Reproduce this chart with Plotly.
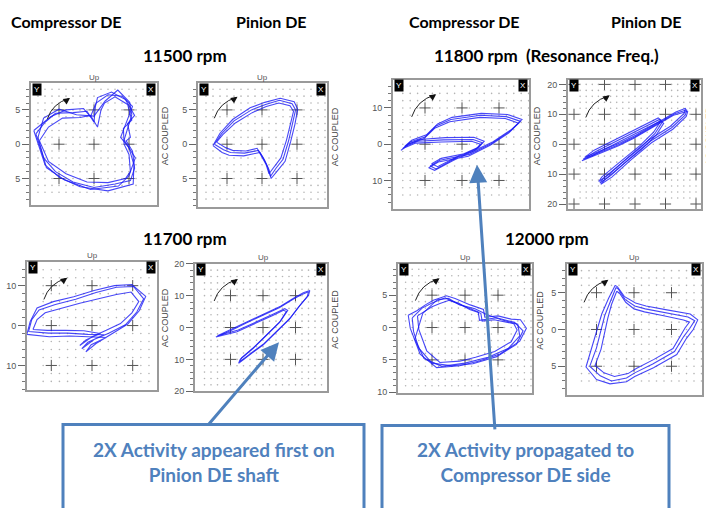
import numpy as np
import plotly.graph_objects as go

W, H = 706, 508

# ---------------- DATA (orbit loops, data units) ----------------
ORBIT_11500_COMP = [
    [(-8.3,1.5),(-7,3.2),(-5.5,4.5),(-3,4.6),(-1,4.8),(0,3.2),(0.2,5.5),(0.5,6.8),(2.5,7.6),(4.5,6.5),(5.8,4.2),(4.8,3),(5.2,1),(4.6,0.5),(5.5,-1),(5.8,-3.5),(5.2,-5.3),(3,-5.8),(0,-6.3),(-3,-5.5),(-5.5,-4),(-7.2,-2),(-8.3,1.5)],
    [(-7.8,0.5),(-6.5,2.5),(-4.5,3.8),(-2,3.9),(-0.5,4.2),(0.5,2.5),(1,5),(1.5,6),(3,6.9),(4.8,5.8),(5.4,3.5),(4.2,2.3),(4.3,0),(5,-1.5),(5.2,-4),(4.5,-5),(2,-5.6),(-1,-5.5),(-4,-4.3),(-6.5,-2.5),(-7.8,0.5)],
    [(-8.6,2),(-6.2,4),(-4,5),(-1.5,5.2),(-0.5,4),(0.3,6),(2,7.2),(4,7),(5.5,5.5),(3.8,1),(5,-0.5),(5.7,-3),(5.6,-5.8),(2,-6.8),(-2,-6.2),(-5,-4.8),(-7,-3),(-8.6,2)],
    [(-8,1),(-7.2,3.8),(-5,5.1),(-2.5,4.3),(0,4.1),(1.6,6.3),(3.4,7.9),(5.1,6.1),(5.4,4.3),(4.3,0.6),(5.9,-2),(5.0,-4.6),(3.5,-6.1),(-0.5,-6.6),(-4.2,-5.2),(-6.8,-3.4),(-8,1)],
]
ORBIT_11500_PINION = [
    [(-6.8,0),(-5.5,-0.8),(-4.5,-1.2),(-2.5,-1.3),(-0.5,-0.9),(0.2,-2),(0.8,-3.3),(1.2,-4.7),(2,-3.5),(3,-2.2),(3.8,0.5),(4.4,3),(4.8,5),(4.3,5.9),(2.5,6.4),(0.5,5.8),(-1.5,5),(-4,3.4),(-5.8,1.5),(-6.8,0)],
    [(-6.5,0.3),(-5.2,-0.5),(-4.2,-0.9),(-2.3,-1.0),(-0.7,-0.6),(0.0,-1.8),(0.6,-3.0),(1.0,-4.3),(1.8,-3.2),(2.7,-2.0),(3.5,0.6),(4.1,3.1),(4.5,4.8),(4.0,5.6),(2.4,6.0),(0.6,5.5),(-1.4,4.6),(-3.8,3.1),(-5.6,1.4),(-6.5,0.3)],
    [(-7.0,-0.2),(-5.7,-1.2),(-4.7,-1.6),(-2.6,-1.7),(-0.3,-1.2),(0.4,-2.4),(1.0,-3.7),(1.3,-5.0),(2.2,-3.9),(3.3,-2.5),(4.1,0.4),(4.7,2.9),(5.1,5.1),(4.6,6.2),(2.6,6.7),(0.4,6.1),(-1.7,5.3),(-4.2,3.6),(-6.0,1.6),(-7.0,-0.2)],
]
ORBIT_11800_COMP = [
    [(-15,-0.5),(-12,0.8),(-5,1.2),(3,1.3),(5.5,0.4),(4,-1.2),(-2,-4),(-7,-6.8),(-8.6,-6),(-6,-4.4),(2,-2.8),(8,0.2),(13,3.6),(15.8,6.3),(12,7.6),(5,8),(-3,6.8),(-7,5),(-10,2),(-14,0.6),(-16,-1.2),(-15,-0.5)],
    [(-14.5,0),(-11.5,1.3),(-4.5,1.8),(3.2,1.9),(6,0.8),(4.6,-0.8),(-1.6,-3.6),(-6.6,-6.2),(-8.2,-5.4),(-5.6,-3.9),(2.3,-2.3),(8.4,0.7),(13.4,4.1),(16.2,6.8),(12.3,8.2),(5.2,8.5),(-2.7,7.4),(-6.6,5.6),(-9.6,2.6),(-13.6,1.1),(-15.5,-0.6),(-14.5,0)],
    [(-15.5,-1),(-12.5,0.3),(-5.5,0.6),(2.6,0.8),(5.0,0),(3.5,-1.7),(-2.4,-4.5),(-7.4,-7.2),(-9.0,-6.5),(-6.4,-4.9),(1.7,-3.3),(7.6,-0.3),(12.6,3.1),(15.3,5.8),(11.7,7.1),(4.8,7.4),(-3.3,6.2),(-7.4,4.4),(-10.4,1.4),(-14.4,0.1),(-16.5,-1.7),(-15.5,-1)],
]
ORBIT_11800_PINION = [
    [(-17,-5),(-11,-2.5),(-5,0),(0,2.5),(5,5.5),(9,8),(13,10.2),(17,11.5),(16.5,9.8),(12,5.5),(5,1),(-2,-5),(-8,-10.5),(-11.5,-13),(-10.5,-11.5),(-4,-6),(2,-1),(6.5,3.5),(9,7.5),(8,8.3),(4,6.2),(-2,3),(-8,0),(-13,-2.5),(-17,-5)],
    [(-16.5,-4.4),(-10.6,-1.9),(-4.6,0.6),(0.4,3.1),(5.4,6.1),(9.4,8.6),(13.4,10.8),(16.6,12),(16.1,10.3),(11.6,6.0),(4.6,1.5),(-2.4,-4.5),(-8.4,-10),(-11.9,-12.5),(-10.9,-11.0),(-4.4,-5.5),(1.6,-0.5),(6.1,4.0),(8.6,8.0),(7.6,8.8),(3.6,6.7),(-2.4,3.5),(-8.4,0.5),(-13.4,-2.0),(-16.5,-4.4)],
    [(-17.4,-5.5),(-11.4,-3.0),(-5.4,-0.5),(-0.4,2.0),(4.6,5.0),(8.6,7.5),(12.6,9.7),(17.3,11.0),(16.8,9.3),(12.4,5.0),(5.4,0.5),(-1.6,-5.5),(-7.6,-11),(-11.2,-13.4),(-10.1,-12.0),(-3.6,-6.5),(2.4,-1.5),(6.9,3.0),(9.4,7.0),(8.4,7.8),(4.4,5.7),(-1.6,2.5),(-7.6,-0.5),(-12.6,-3.0),(-17.4,-5.5)],
]
ORBIT_11700_COMP = [
    [(-15.6,-1.5),(-14.8,1.5),(-13,3.9),(-9,5.3),(-4,6.6),(1,8.3),(6,9.6),(10.2,9.8),(12.7,6.7),(11,3.4),(8.2,0.2),(4.1,-1.9),(0.5,-3.5),(-2.5,-5.8),(-1,-4.2),(3,-2.3),(-1,-2.2),(-6,-1.9),(-10.7,-1.9),(-15.6,-1.5)],
    [(-14.5,-1),(-13.5,1.5),(-11.5,3.2),(-7.5,4.4),(-3,5.6),(1.6,6.7),(6,7.8),(9.6,8.4),(11.5,6),(9.8,3.2),(7,0.5),(3.5,-1.2),(0,-2.8),(-3,-5),(-1.5,-3.6),(2,-2),(-2,-1.3),(-6.5,-1.2),(-11,-1.2),(-14.5,-1)],
    [(-16,-2.2),(-15.2,1),(-13.5,4.4),(-9.5,6),(-4.5,7.2),(0.5,8.8),(5.5,10),(9.8,10.3),(13.2,7.3),(11.6,3.7),(8.8,0.4),(4.8,-2.2),(1,-4.5),(-1.5,-6.6),(-0.2,-4.8),(3.5,-3),(-0.5,-2.9),(-5.5,-2.6),(-10.5,-2.8),(-16,-2.2)],
]
ORBIT_11700_PINION = [
    [(-14.5,-3),(-10,-1),(-5,1.5),(0,3.8),(5,6.2),(9,8.7),(12,10.4),(14,11.2),(13.6,9.7),(11,6.5),(8,2.5),(4,-1.5),(0,-5.5),(-4,-8.5),(-7.5,-11.2),(-7,-10),(-3,-6.5),(1,-2.5),(5,1.5),(7.2,5),(6.3,5.4),(3,3.8),(-2,1.4),(-8,-1.3),(-14.5,-3)],
    [(-14,-2.6),(-9.6,-0.5),(-4.6,2.0),(0.4,4.3),(5.4,6.7),(9.4,9.2),(12.4,10.9),(14.4,11.6),(14.0,10.1),(11.4,7.0),(8.4,3.0),(4.4,-1.0),(0.4,-5.0),(-3.6,-8.0),(-7.1,-10.7),(-6.6,-9.5),(-2.6,-6.0),(1.4,-2.0),(5.4,2.0),(7.6,5.4),(6.7,5.9),(3.4,4.3),(-1.6,1.9),(-7.6,-0.8),(-14,-2.6)],
]
ORBIT_12000_COMP = [
    [(-8.6,1.9),(-7.3,2.6),(-6,3.5),(-4.8,4.2),(-2.8,4.9),(-1.5,4.5),(0.8,3.5),(2.8,2.8),(3,1.6),(5,1.8),(7,1.3),(8.4,1.2),(9.3,-0.1),(8.3,-2.1),(5.3,-4.1),(2,-5.2),(-0.8,-5.9),(-4.3,-6.2),(-6.8,-4.1),(-8.3,-0.1),(-8.6,1.9)],
    [(-7.2,1.8),(-6.2,2.5),(-5,3.2),(-3.8,3.7),(-2.4,4.2),(-1,3.8),(0.7,2.8),(2.4,2.2),(2.6,1),(4.4,1.2),(6.2,0.8),(7.4,0.6),(7.9,-0.4),(7,-2.2),(4.5,-3.7),(1.6,-4.6),(-0.8,-5.2),(-3.8,-5.4),(-5.8,-3.6),(-7,-0.3),(-7.2,1.8)],
    [(-8,1.5),(-6.5,3),(-5,3.8),(-3,4.6),(-1.8,4),(0.3,3.1),(2,2.4),(2.2,1.1),(4.8,1.5),(7.5,0.8),(8.8,-0.5),(7.8,-2.6),(4.8,-4.5),(1.2,-5.6),(-2,-5.9),(-5,-5.5),(-7,-3.2),(-7.8,-0.6),(-8,1.5)],
    [(-6.4,2.2),(-5.2,3.3),(-4.2,4.3),(-2.5,4.5),(-0.8,3.5),(1.5,2.9),(3.3,2.0),(5.5,1.2),(8.0,0.5),(8.3,-1.3),(6.6,-3.2),(3.5,-4.6),(0.0,-5.5),(-3.5,-6.0),(-6.2,-4.8),(-7.6,-1.8),(-6.4,2.2)],
]
ORBIT_12000_PINION = [
    [(-2.4,5.7),(-3.2,3.8),(-3.9,1.9),(-4.5,-0.5),(-5,-2.5),(-5.9,-5),(-4.5,-6.3),(-3,-7),(-1,-6.6),(0.1,-5.9),(2.5,-4.7),(5.4,-3),(6.6,-1),(7.4,0.1),(8.1,1.2),(7.2,1.7),(4,2.3),(1.5,2.8),(0.1,3.2),(-1.2,4.1),(-2.1,5.5),(-2.4,5.7)],
    [(-2.3,5.2),(-3,3.4),(-3.5,1.5),(-4.0,-0.8),(-4.4,-2.7),(-5.2,-4.9),(-4.0,-5.9),(-2.6,-6.4),(-0.8,-6.0),(0.3,-5.3),(2.6,-4.1),(5.2,-2.6),(6.2,-0.8),(6.8,0.2),(7.4,1.0),(6.6,1.3),(3.8,1.9),(1.4,2.4),(0,2.8),(-1.1,3.7),(-1.9,4.9),(-2.3,5.2)],
    [(-2.5,6),(-3.4,4.2),(-4.3,2.1),(-5,-0.3),(-5.6,-2.4),(-6.4,-5.1),(-5,-6.8),(-3.2,-7.4),(-1,-7.1),(0.1,-6.4),(2.6,-5.2),(5.7,-3.4),(7.0,-1.2),(7.9,0),(8.5,1.3),(7.5,2.1),(4.2,2.7),(1.6,3.2),(0.2,3.6),(-1.3,4.5),(-2.2,5.8),(-2.5,6)],
]

COLUMN_HEADERS = ["Compressor DE", "Pinion DE", "Compressor DE", "Pinion DE"]
SPEED_TITLES = ["11500 rpm", "11800 rpm\u00a0\u00a0(Resonance Freq.)", "11700 rpm", "12000 rpm"]
CALLOUTS = ["2X Activity appeared first on<br>Pinion DE shaft",
            "2X Activity propagated to<br>Compressor DE side"]

# ------------- layout config per panel (pixels) -------------
PANELS = [
    dict(orbit=ORBIT_11500_COMP,   box=(31, 80, 157, 204),  c=(94, 142),  ppu=7.0,  dot=1, cross=[-5, 0, 5],  yt=[-5, 0, 5], minor=1, up=True),
    dict(orbit=ORBIT_11500_PINION, box=(198, 80, 327, 206), c=(262, 142), ppu=7.0,  dot=1, cross=[-5, 0, 5],  yt=[-5, 0, 5], minor=1, up=True),
    dict(orbit=ORBIT_11800_COMP,   box=(393, 76, 529, 208), c=(462, 142), ppu=3.7,  dot=2, cross=[-10, 0, 10], yt=[-10, 0, 10], minor=2, up=False),
    dict(orbit=ORBIT_11800_PINION, box=(568, 76, 701, 208), c=(635, 142), ppu=3.05, dot=2, cross=[-20, -10, 0, 10, 20], yt=[-20, -10, 0, 10, 20], minor=2, up=False),
    dict(orbit=ORBIT_11700_COMP,   box=(27, 262, 157, 393), c=(92, 327),  ppu=4.07, dot=2, cross=[-10, 0, 10], yt=[-10, 0, 10], minor=2, up=True),
    dict(orbit=ORBIT_11700_PINION, box=(195, 264, 327, 394), c=(263, 329), ppu=3.25, dot=2, cross=[-10, 0, 10], yt=[-20, -10, 0, 10, 20], minor=2, up=True),
    dict(orbit=ORBIT_12000_COMP,   box=(398, 264, 532, 396), c=(465, 329), ppu=6.6,  dot=1, cross=[-5, 0, 5],  yt=[-10, -5, 0, 5, 10], minor=1, up=True),
    dict(orbit=ORBIT_12000_PINION, box=(567, 264, 702, 398), c=(634, 331), ppu=7.5,  dot=1, cross=[-5, 0, 5],  yt=[-5, 0, 5], minor=1, up=True),
]

def fx(x): return x / W
def fy(y): return 1 - y / H

fig = go.Figure()
layout = dict(width=W, height=H, margin=dict(l=0, r=0, t=0, b=0),
              paper_bgcolor="white", plot_bgcolor="white", showlegend=False)
annotations = []
shapes = []

HEAD_FONT = dict(family="Lato, 'Open Sans', sans-serif", size=16, color="black")
RPM_FONT = dict(family="Lato, 'Open Sans', sans-serif", size=17, color="black")
SMALL = dict(family="Liberation Sans, Arial, sans-serif", size=9, color="#555")

def ptext(x, y, text, font, **kw):
    d = dict(x=fx(x), y=fy(y), xref="paper", yref="paper", text=text, showarrow=False,
             xanchor="center", yanchor="middle", font=font)
    d.update(kw)
    annotations.append(d)

for i, p in enumerate(PANELS, start=1):
    x0, y0, x1, y1 = p["box"]
    cx, cy = p["c"]
    u = p["ppu"]
    xr = [(x0 - cx) / u, (x1 - cx) / u]
    yr = [(cy - y1) / u, (cy - y0) / u]
    xa = "x" if i == 1 else f"x{i}"
    ya = "y" if i == 1 else f"y{i}"
    xk = "xaxis" if i == 1 else f"xaxis{i}"
    yk = "yaxis" if i == 1 else f"yaxis{i}"
    layout[xk] = dict(domain=[fx(x0), fx(x1)], range=xr, anchor=ya, showgrid=False,
                      zeroline=False, showline=True, mirror=True, linecolor="#9a9a9a",
                      linewidth=2, showticklabels=False, ticks="", fixedrange=True)
    layout[yk] = dict(domain=[fy(y1), fy(y0)], range=yr, anchor=xa, showgrid=False,
                      zeroline=False, showline=True, mirror=True, linecolor="#9a9a9a",
                      linewidth=2, ticks="outside", ticklen=7, tickwidth=1, tickcolor="#666",
                      tickvals=p["yt"], ticktext=[str(abs(v)) for v in p["yt"]],
                      tickfont=SMALL,
                      minor=dict(ticks="outside", ticklen=3, tickcolor="#777",
                                 tickmode="linear", tick0=0, dtick=p["minor"]),
                      fixedrange=True)
    # dotted grid
    d = p["dot"]
    gx = np.arange(np.ceil(xr[0] / d) * d, xr[1], d)
    gy = np.arange(np.ceil(yr[0] / d) * d, yr[1], d)
    GX, GY = np.meshgrid(gx[1:], gy[1:])
    fig.add_trace(go.Scatter(x=GX.ravel(), y=GY.ravel(), mode="markers", xaxis=xa, yaxis=ya,
                             marker=dict(size=1.6, color="#b4b4b4"), hoverinfo="skip"))
    # crosses
    CX, CY = np.meshgrid(p["cross"], p["cross"])
    fig.add_trace(go.Scatter(x=CX.ravel(), y=CY.ravel(), mode="markers", xaxis=xa, yaxis=ya,
                             marker=dict(symbol="cross-thin", size=8,
                                         line=dict(width=1, color="#555")), hoverinfo="skip"))
    # orbit loops
    for loop in p["orbit"]:
        fig.add_trace(go.Scatter(x=[q[0] for q in loop], y=[q[1] for q in loop], mode="lines",
                                 xaxis=xa, yaxis=ya,
                                 line=dict(color="rgba(25,25,245,0.8)", width=1.1),
                                 hoverinfo="skip"))
    # rotation arrow (curved)
    R = (xr[1] - xr[0]) / 2
    sx, sy = -0.74 * R, 0.41 * R
    ex, ey = -0.40 * R, 0.74 * R
    qx, qy = -0.66 * R, 0.66 * R
    shapes.append(dict(type="path", xref=xa, yref=ya,
                       path=f"M {sx},{sy} Q {qx},{qy} {ex},{ey}",
                       line=dict(color="#222", width=1)))
    annotations.append(dict(x=ex + 0.02 * R, y=ey + 0.01 * R, xref=xa, yref=ya, text="",
                            showarrow=True, ax=-7, ay=5, arrowhead=2, arrowsize=1.1,
                            arrowwidth=1.2, arrowcolor="#111"))
    # Y / X corner labels
    cf = dict(family="Liberation Sans", size=8, color="white")
    ptext(x0 + 6, y0 + 6, "Y", cf, bgcolor="black", borderpad=1)
    ptext(x1 - 6, y0 + 6, "X", cf, bgcolor="black", borderpad=1)
    # AC COUPLED
    ptext(x1 + 8, (y0 + y1) / 2 - 8, "AC COUPLED",
          dict(family="Liberation Sans", size=9, color="#444"), textangle=-90)
    if p["up"]:
        ptext(cx, y0 - 6, "Up", dict(family="Liberation Sans", size=8, color="#555"))

# headers
for txt, xc in zip(COLUMN_HEADERS, [66, 271, 464, 646]):
    ptext(xc, 17, f"<b>{txt}</b>", HEAD_FONT)
for txt, (xc, yc) in zip(SPEED_TITLES, [(185, 52), (546, 52), (185, 238), (547, 238)]):
    ptext(xc, yc, f"<b>{txt}</b>", RPM_FONT)

# callout arrows
BLUE = "#4F81BD"
for (hx, hy), (tx, ty) in [((279, 344), (207, 428)), ((477, 163), (495, 429))]:
    annotations.append(dict(x=fx(hx), y=fy(hy), xref="paper", yref="paper", text="",
                            xanchor="center", yanchor="middle",
                            showarrow=True, ax=tx - hx, ay=ty - hy, arrowhead=2,
                            arrowsize=1.2, arrowwidth=3, arrowcolor=BLUE))
# callout boxes
for (bx0, bx1, by0), txt in zip([(63, 364, 428), (382, 669, 429)], CALLOUTS):
    shapes.append(dict(type="rect", xref="paper", yref="paper", x0=fx(bx0), x1=fx(bx1),
                       y0=fy(540), y1=fy(by0), line=dict(color=BLUE, width=3),
                       fillcolor="white", layer="above"))
    ptext((bx0 + bx1) / 2, 466, f"<b>{txt}</b>",
          dict(family="Lato, 'Open Sans', sans-serif", size=19, color=BLUE))

layout["annotations"] = annotations
layout["shapes"] = shapes
fig.update_layout(**layout)
fig.write_html("out.html")
